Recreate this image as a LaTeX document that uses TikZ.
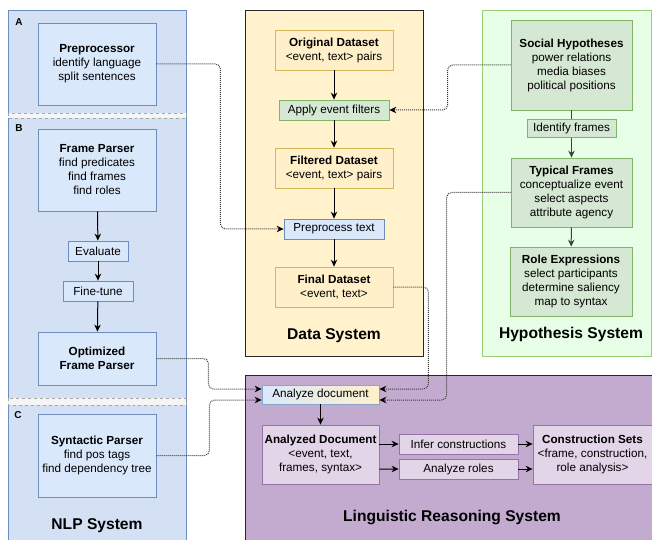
\documentclass[tikz,border=0pt]{standalone}
\usepackage{fontspec}
\setmainfont{Liberation Sans}
\usetikzlibrary{arrows.meta,calc}
\definecolor{nlpfill}{HTML}{D4E1F5}
\definecolor{nlpbox}{HTML}{DAE8FC}
\definecolor{nlpline}{HTML}{6C8EBF}
\definecolor{datafill}{HTML}{FFF2CC}
\definecolor{databox}{HTML}{FFF0CA}
\definecolor{dataline}{HTML}{D6B656}
\definecolor{hypfill}{HTML}{E6FFE6}
\definecolor{hypline}{HTML}{97D077}
\definecolor{hypbox}{HTML}{D5E8D4}
\definecolor{hypboxline}{HTML}{82B366}
\definecolor{lingfill}{HTML}{C3ABD0}
\definecolor{lingbox}{HTML}{E1D5E7}
\definecolor{lingline}{HTML}{9673A6}
\definecolor{gapfill}{HTML}{F5F5F5}
\definecolor{connc}{HTML}{3A3A3A}
\newcommand\myfs{\fontsize{11.7bp}{14bp}\selectfont}
\newcommand\mytitle{\fontsize{15.6bp}{18bp}\selectfont\bfseries}
\begin{document}
\begin{tikzpicture}[x=1bp,y=-1bp,
  box/.style={draw, line width=0.8bp, align=center, inner sep=1bp, font=\myfs, text=black},
  nlpb/.style={box, fill=nlpbox, draw=nlpline},
  datab/.style={box, fill=databox, draw=dataline},
  hypb/.style={box, fill=hypbox, draw=hypboxline},
  lingb/.style={box, fill=lingbox, draw=lingline},
  ttl/.style={font=\mytitle, text=black},
  lbl/.style={font=\fontsize{10bp}{12bp}\selectfont\bfseries, text=black},
  arr/.style={-{Stealth[length=7bp,width=6.5bp]}, line width=1bp, black},
  conn/.style={-{Stealth[length=7bp,width=6.5bp,black]}, densely dotted, line width=1bp, connc, rounded corners=5bp},
  gap/.style={fill=gapfill, draw=gray!70, dashed, line width=0.8bp}
]
\useasboundingbox (0,0) rectangle (652,540);

% panels
\fill[nlpfill] (8,10) rectangle (186,545);
\draw[nlpline, line width=0.8bp] (8,545) -- (8,10) -- (186,10) -- (186,545);
\draw[gap] (8,113) rectangle (186,118);
\draw[gap] (8,398) rectangle (186,405);

\draw[fill=datafill, draw=black!85, line width=0.9bp] (245,10) rectangle (423,356);
\draw[fill=hypfill, draw=hypline, line width=0.9bp] (482,10) rectangle (651.5,356);
\draw[fill=lingfill, draw=black!85, line width=0.9bp] (245,375) rectangle (660,545);

% labels
\node[lbl] (la) at (19,22) {A};
\node[lbl] (lb) at (19,128) {B};
\node[lbl] (lc) at (18,415) {C};

% NLP system
\node[nlpb, minimum width=118bp, minimum height=82bp] (pre) at (97,64) {\textbf{Preprocessor}\\identify language\\split sentences};
\node[nlpb, minimum width=118bp, minimum height=82bp] (fp) at (97,170) {\textbf{Frame Parser}\\find predicates\\find frames\\find roles};
\node[nlpb, minimum width=60bp, minimum height=20bp] (ev) at (98,251) {Evaluate};
\node[nlpb, minimum width=70bp, minimum height=20bp] (ft) at (98,291) {Fine-tune};
\node[nlpb, minimum width=118bp, minimum height=53bp] (opt) at (97,358.5) {\textbf{Optimized}\\\textbf{Frame Parser}};
\node[nlpb, minimum width=118bp, minimum height=83bp] (syn) at (97,455.5) {\textbf{Syntactic Parser}\\find pos tags\\find dependency tree};
\node[ttl] (tnlp) at (97,526) {NLP System};

% Data system
\node[datab, minimum width=118bp, minimum height=40bp] (orig) at (334,50) {\textbf{Original Dataset}\\<event, text> pairs};
\node[hypb, minimum width=110bp, minimum height=20bp] (aef) at (334,110) {Apply event filters};
\node[datab, minimum width=118bp, minimum height=40bp] (filt) at (334,168) {\textbf{Filtered Dataset}\\<event, text> pairs};
\node[nlpb, minimum width=100bp, minimum height=20bp] (pp) at (334,229) {Preprocess text};
\node[datab, minimum width=118bp, minimum height=40bp] (fin) at (334,287) {\textbf{Final Dataset}\\<event, text>};
\node[ttl] (tdata) at (334,336) {Data System};

% Hypothesis system
\node[hypb, minimum width=121bp, minimum height=90bp] (soc) at (571.5,65) {\textbf{Social Hypotheses}\\power relations\\media biases\\political positions};
\node[hypb, minimum width=89bp, minimum height=18bp] (idf) at (571.5,128.5) {Identify frames};
\node[hypb, minimum width=121bp, minimum height=69bp] (typ) at (571.5,192.5) {\textbf{Typical Frames}\\conceptualize event\\select aspects\\attribute agency};
\node[hypb, minimum width=122bp, minimum height=69bp] (role) at (571,281.5) {\textbf{Role Expressions}\\select participants\\determine saliency\\map to syntax};
\node[ttl] (thyp) at (571,334) {Hypothesis System};

% Linguistic reasoning system
\node[box, draw=nlpline!80, left color=nlpbox, right color=databox, minimum width=117bp, minimum height=19bp] (ad) at (320.5,394.5) {Analyze document};
\node[lingb, minimum width=117bp, minimum height=59bp] (adoc) at (320.5,454.5) {\textbf{Analyzed Document}\\<event, text,\\frames, syntax>};
\node[lingb, minimum width=119bp, minimum height=20bp] (inf) at (458.5,444) {Infer constructions};
\node[lingb, minimum width=119bp, minimum height=20bp] (ar) at (458.5,469) {Analyze roles};
\node[lingb, minimum width=119bp, minimum height=59bp] (cs) at (592.5,454.5) {\textbf{Construction Sets}\\<frame, construction,\\role analysis>};
\node[ttl] (tling) at (452,517) {Linguistic Reasoning System};

% solid arrows
\draw[arr] (fp) -- (ev);
\draw[arr] (ev) -- (ft);
\draw[arr] (ft) -- (opt);
\draw[arr] (orig) -- (aef);
\draw[arr] (aef) -- (filt);
\draw[arr] (filt) -- (pp);
\draw[arr] (pp) -- (fin);
\draw[line width=1bp, black!75] (soc) -- (idf);
\draw[arr, black!75] (idf) -- (typ);
\draw[arr, black!75] (typ) -- (role);
\draw[arr] (ad) -- (adoc);
\draw[arr] ($(adoc.east)+(0,-10.5)$) -- (inf.west);
\draw[arr] ($(adoc.east)+(0,14.5)$) -- (ar.west);
\draw[arr] (inf.east) -- (cs.west |- inf.east);
\draw[arr] (ar.east) -- (cs.west |- ar.east);

% dotted connectors
\draw[conn] (pre.east) -- ++(64,0) |- (pp.west);
\draw[conn] (soc.west) -- ++(-63,0) |- (aef.east);
\draw[conn] (fin.east) -- ++(35,0) |- ($(ad.east)+(0,-5.5)$);
\draw[conn] (typ.west) -- ++(-64,0) |- ($(ad.east)+(0,5.5)$);
\draw[conn] (opt.east) -- ++(52,0) |- ($(ad.west)+(0,-5.5)$);
\draw[conn] (syn.east) -- ++(53,0) |- ($(ad.west)+(0,5.5)$);
\end{tikzpicture}
\end{document}
